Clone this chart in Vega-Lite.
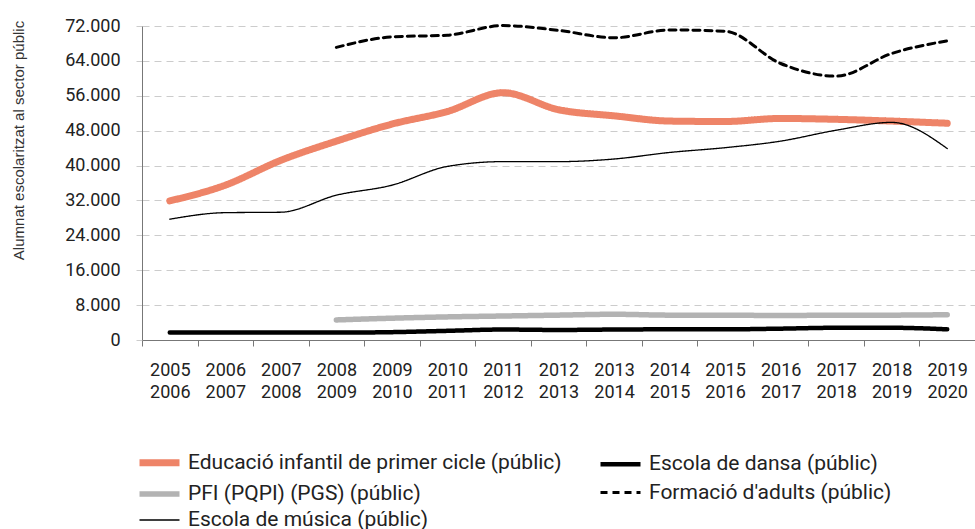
{
  "$schema": "https://vega.github.io/schema/vega-lite/v6.json",
  "width": 833,
  "height": 314,
  "autosize": {"type": "none"},
  "padding": {"left": 142, "top": 26, "right": 0, "bottom": 189},
  "background": "white",
  "data": {
    "values": [
      {"curs": "2005-2006", "serie": "Educació infantil de primer cicle (públic)", "alumnes": 31900},
      {"curs": "2006-2007", "serie": "Educació infantil de primer cicle (públic)", "alumnes": 35500},
      {"curs": "2007-2008", "serie": "Educació infantil de primer cicle (públic)", "alumnes": 41200},
      {"curs": "2008-2009", "serie": "Educació infantil de primer cicle (públic)", "alumnes": 45600},
      {"curs": "2009-2010", "serie": "Educació infantil de primer cicle (públic)", "alumnes": 49500},
      {"curs": "2010-2011", "serie": "Educació infantil de primer cicle (públic)", "alumnes": 52400},
      {"curs": "2011-2012", "serie": "Educació infantil de primer cicle (públic)", "alumnes": 56700},
      {"curs": "2012-2013", "serie": "Educació infantil de primer cicle (públic)", "alumnes": 52800},
      {"curs": "2013-2014", "serie": "Educació infantil de primer cicle (públic)", "alumnes": 51400},
      {"curs": "2014-2015", "serie": "Educació infantil de primer cicle (públic)", "alumnes": 50200},
      {"curs": "2015-2016", "serie": "Educació infantil de primer cicle (públic)", "alumnes": 50100},
      {"curs": "2016-2017", "serie": "Educació infantil de primer cicle (públic)", "alumnes": 50800},
      {"curs": "2017-2018", "serie": "Educació infantil de primer cicle (públic)", "alumnes": 50600},
      {"curs": "2018-2019", "serie": "Educació infantil de primer cicle (públic)", "alumnes": 50200},
      {"curs": "2019-2020", "serie": "Educació infantil de primer cicle (públic)", "alumnes": 49700},

      {"curs": "2008-2009", "serie": "Formació d'adults (públic)", "alumnes": 67100},
      {"curs": "2009-2010", "serie": "Formació d'adults (públic)", "alumnes": 69500},
      {"curs": "2010-2011", "serie": "Formació d'adults (públic)", "alumnes": 69900},
      {"curs": "2011-2012", "serie": "Formació d'adults (públic)", "alumnes": 72100},
      {"curs": "2012-2013", "serie": "Formació d'adults (públic)", "alumnes": 71000},
      {"curs": "2013-2014", "serie": "Formació d'adults (públic)", "alumnes": 69300},
      {"curs": "2014-2015", "serie": "Formació d'adults (públic)", "alumnes": 71100},
      {"curs": "2015-2016", "serie": "Formació d'adults (públic)", "alumnes": 70800},
      {"curs": "2016-2017", "serie": "Formació d'adults (públic)", "alumnes": 63400},
      {"curs": "2017-2018", "serie": "Formació d'adults (públic)", "alumnes": 60500},
      {"curs": "2018-2019", "serie": "Formació d'adults (públic)", "alumnes": 65700},
      {"curs": "2019-2020", "serie": "Formació d'adults (públic)", "alumnes": 68600},

      {"curs": "2008-2009", "serie": "PFI (PQPI) (PGS) (públic)", "alumnes": 4600},
      {"curs": "2009-2010", "serie": "PFI (PQPI) (PGS) (públic)", "alumnes": 5000},
      {"curs": "2010-2011", "serie": "PFI (PQPI) (PGS) (públic)", "alumnes": 5300},
      {"curs": "2011-2012", "serie": "PFI (PQPI) (PGS) (públic)", "alumnes": 5500},
      {"curs": "2012-2013", "serie": "PFI (PQPI) (PGS) (públic)", "alumnes": 5700},
      {"curs": "2013-2014", "serie": "PFI (PQPI) (PGS) (públic)", "alumnes": 5900},
      {"curs": "2014-2015", "serie": "PFI (PQPI) (PGS) (públic)", "alumnes": 5700},
      {"curs": "2015-2016", "serie": "PFI (PQPI) (PGS) (públic)", "alumnes": 5700},
      {"curs": "2016-2017", "serie": "PFI (PQPI) (PGS) (públic)", "alumnes": 5600},
      {"curs": "2017-2018", "serie": "PFI (PQPI) (PGS) (públic)", "alumnes": 5700},
      {"curs": "2018-2019", "serie": "PFI (PQPI) (PGS) (públic)", "alumnes": 5700},
      {"curs": "2019-2020", "serie": "PFI (PQPI) (PGS) (públic)", "alumnes": 5800},

      {"curs": "2005-2006", "serie": "Escola de dansa (públic)", "alumnes": 1700},
      {"curs": "2006-2007", "serie": "Escola de dansa (públic)", "alumnes": 1700},
      {"curs": "2007-2008", "serie": "Escola de dansa (públic)", "alumnes": 1700},
      {"curs": "2008-2009", "serie": "Escola de dansa (públic)", "alumnes": 1700},
      {"curs": "2009-2010", "serie": "Escola de dansa (públic)", "alumnes": 1800},
      {"curs": "2010-2011", "serie": "Escola de dansa (públic)", "alumnes": 2100},
      {"curs": "2011-2012", "serie": "Escola de dansa (públic)", "alumnes": 2400},
      {"curs": "2012-2013", "serie": "Escola de dansa (públic)", "alumnes": 2300},
      {"curs": "2013-2014", "serie": "Escola de dansa (públic)", "alumnes": 2400},
      {"curs": "2014-2015", "serie": "Escola de dansa (públic)", "alumnes": 2450},
      {"curs": "2015-2016", "serie": "Escola de dansa (públic)", "alumnes": 2450},
      {"curs": "2016-2017", "serie": "Escola de dansa (públic)", "alumnes": 2600},
      {"curs": "2017-2018", "serie": "Escola de dansa (públic)", "alumnes": 2800},
      {"curs": "2018-2019", "serie": "Escola de dansa (públic)", "alumnes": 2800},
      {"curs": "2019-2020", "serie": "Escola de dansa (públic)", "alumnes": 2450},

      {"curs": "2005-2006", "serie": "Escola de música (públic)", "alumnes": 27700},
      {"curs": "2006-2007", "serie": "Escola de música (públic)", "alumnes": 29200},
      {"curs": "2007-2008", "serie": "Escola de música (públic)", "alumnes": 29300},
      {"curs": "2008-2009", "serie": "Escola de música (públic)", "alumnes": 33200},
      {"curs": "2009-2010", "serie": "Escola de música (públic)", "alumnes": 35500},
      {"curs": "2010-2011", "serie": "Escola de música (públic)", "alumnes": 39800},
      {"curs": "2011-2012", "serie": "Escola de música (públic)", "alumnes": 40900},
      {"curs": "2012-2013", "serie": "Escola de música (públic)", "alumnes": 40900},
      {"curs": "2013-2014", "serie": "Escola de música (públic)", "alumnes": 41500},
      {"curs": "2014-2015", "serie": "Escola de música (públic)", "alumnes": 43000},
      {"curs": "2015-2016", "serie": "Escola de música (públic)", "alumnes": 44100},
      {"curs": "2016-2017", "serie": "Escola de música (públic)", "alumnes": 45600},
      {"curs": "2017-2018", "serie": "Escola de música (públic)", "alumnes": 48100},
      {"curs": "2018-2019", "serie": "Escola de música (públic)", "alumnes": 49900},
      {"curs": "2019-2020", "serie": "Escola de música (públic)", "alumnes": 43900}
    ]
  },
  "mark": {"type": "line", "interpolate": "monotone", "strokeCap": "round", "clip": false},
  "encoding": {
    "x": {
      "field": "curs",
      "type": "ordinal",
      "sort": null,
      "scale": {"type": "band", "paddingInner": 0, "paddingOuter": 0},
      "axis": {
        "title": null,
        "labelAngle": 0,
        "labelExpr": "datum.value ? split(datum.value, '-') : ''",
        "labelFont": "Roboto",
        "labelFontSize": 18,
        "labelColor": "#222222",
        "labelLineHeight": 22,
        "labelPadding": 15,
        "labelBaseline": "top",
        "tickBand": "extent",
        "tickSize": 6,
        "tickColor": "#777777",
        "domainColor": "#777777",
        "grid": false
      }
    },
    "y": {
      "field": "alumnes",
      "type": "quantitative",
      "scale": {"domain": [0, 72000], "nice": false},
      "axis": {
        "values": [0, 8000, 16000, 24000, 32000, 40000, 48000, 56000, 64000, 72000],
        "labelExpr": "replace(format(datum.value, ','), ',', '.')",
        "labelFont": "Roboto",
        "labelFontSize": 18,
        "labelColor": "#222222",
        "labelPadding": 16,
        "tickSize": 6,
        "tickColor": "#cccccc",
        "domainColor": "#777777",
        "grid": true,
        "gridColor": "#cccccc",
        "gridDash": [7, 5],
        "gridWidth": 1,
        "title": "Alumnat escolaritzat al sector públic",
        "titleFont": "Liberation Sans",
        "titleFontSize": 15,
        "titleFontWeight": "normal",
        "titleColor": "#333333",
        "titleAngle": 270,
        "titleAlign": "center",
        "titleBaseline": "middle",
        "titleX": -124,
        "titleY": 114
      }
    },
    "color": {
      "field": "serie",
      "type": "nominal",
      "scale": {
        "domain": ["Educació infantil de primer cicle (públic)", "PFI (PQPI) (PGS) (públic)", "Escola de música (públic)", "Escola de dansa (públic)", "Formació d'adults (públic)"],
        "range": ["#EE8468", "#B3B3B3", "#000000", "#000000", "#000000"]
      },
      "legend": {
        "title": null,
        "orient": "none",
        "legendX": 4,
        "legendY": 423,
        "columns": 2,
        "columnPadding": 29,
        "rowPadding": 4,
        "padding": 0,
        "symbolType": "M-2,0H2",
        "symbolSize": 400,
        "labelOffset": 15,
        "labelFont": "Roboto",
        "labelFontSize": 21,
        "labelColor": "#222222",
        "labelLimit": 0
      }
    },
    "strokeWidth": {
      "field": "serie",
      "type": "nominal",
      "scale": {
        "type": "ordinal",
        "domain": ["Educació infantil de primer cicle (públic)", "PFI (PQPI) (PGS) (públic)", "Escola de música (públic)", "Escola de dansa (públic)", "Formació d'adults (públic)"],
        "range": [7, 5.5, 1.3, 4.5, 3]
      },
      "legend": {
        "title": null,
        "orient": "none",
        "legendX": 4,
        "legendY": 423,
        "columns": 2,
        "columnPadding": 29,
        "rowPadding": 4,
        "padding": 0,
        "symbolType": "M-2,0H2",
        "symbolSize": 400,
        "labelOffset": 15,
        "labelFont": "Roboto",
        "labelFontSize": 21,
        "labelColor": "#222222",
        "labelLimit": 0
      }
    },
    "strokeDash": {
      "field": "serie",
      "type": "nominal",
      "scale": {
        "domain": ["Educació infantil de primer cicle (públic)", "PFI (PQPI) (PGS) (públic)", "Escola de música (públic)", "Escola de dansa (públic)", "Formació d'adults (públic)"],
        "range": [[1, 0], [1, 0], [1, 0], [1, 0], [7, 5]]
      },
      "legend": {
        "title": null,
        "orient": "none",
        "legendX": 4,
        "legendY": 423,
        "columns": 2,
        "columnPadding": 29,
        "rowPadding": 4,
        "padding": 0,
        "symbolType": "M-2,0H2",
        "symbolSize": 400,
        "labelOffset": 15,
        "labelFont": "Roboto",
        "labelFontSize": 21,
        "labelColor": "#222222",
        "labelLimit": 0
      }
    }
  },
  "config": {
    "view": {"stroke": null}
  }
}
